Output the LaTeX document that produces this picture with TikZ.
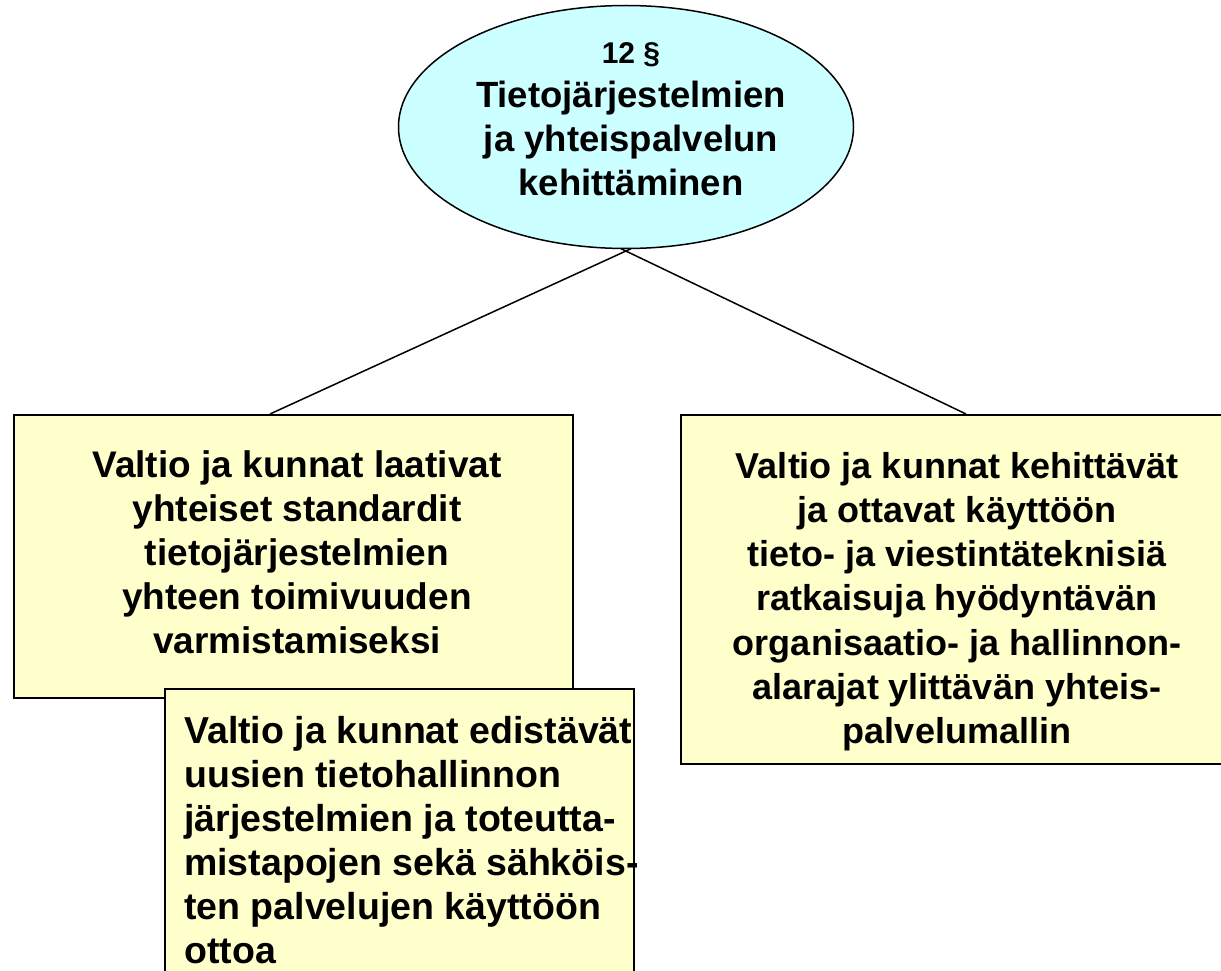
\documentclass[tikz,border=0pt]{standalone}
\usepackage{fontspec}
\setmainfont{Liberation Sans}
\usetikzlibrary{shapes.geometric}
\definecolor{cyanfill}{HTML}{CCFFFF}
\definecolor{yellowfill}{HTML}{FFFFCC}
\begin{document}
\begin{tikzpicture}[x=1pt,y=-1pt,
  boxstyle/.style={draw=black, line width=2pt, fill=yellowfill, rectangle, inner sep=0pt, anchor=north west},
  txtstyle/.style={inner sep=0pt, font=\fontsize{36.5pt}{44pt}\selectfont\bfseries},
  connector/.style={draw=black, line width=1.5pt}]
\useasboundingbox (0,0) rectangle (1221,971);
% connectors
\coordinate (lj) at (270,414);
\coordinate (rj) at (966,414);
\node[ellipse, inner sep=0pt, minimum width=455pt, minimum height=243pt] (topshape) at (626,127) {};
\draw[connector] ([xshift=5pt]topshape.south) -- (lj);
\draw[connector] ([xshift=-5pt]topshape.south) -- (rj);
% left box
\node[boxstyle, minimum width=559pt, minimum height=283pt] (lbox) at (13,414) {};
\node[txtstyle, anchor=north, align=center, font=\fontsize{37pt}{44pt}\selectfont\bfseries] (ltext) at (297,447)
  {\rule{0pt}{30pt}Valtio ja kunnat laativat\\yhteiset standardit\\tietojärjestelmien\\yhteen toimivuuden\\varmistamiseksi};
% lower box
\node[boxstyle, minimum width=469pt, minimum height=310pt] (bbox) at (164,688) {};
\node[txtstyle, anchor=north west, align=left, font=\fontsize{37.5pt}{44pt}\selectfont\bfseries] (btext) at (184,713)
  {\rule{0pt}{30pt}Valtio ja kunnat edistävät\\uusien tietohallinnon\\järjestelmien ja toteutta-\\mistapojen sekä sähköis-\\ten palvelujen käyttöön\\ottoa};
% right box
\node[boxstyle, minimum width=560pt, minimum height=349pt] (rbox) at (680,414) {};
\node[txtstyle, anchor=north, align=center, font=\fontsize{36pt}{44.2pt}\selectfont\bfseries] (rtext) at (957,448)
  {\rule{0pt}{30pt}Valtio ja kunnat kehittävät\\ja ottavat käyttöön\\tieto- ja viestintäteknisiä\\ratkaisuja hyödyntävän\\organisaatio- ja hallinnon-\\alarajat ylittävän yhteis-\\palvelumallin};
% ellipse
\node[ellipse, draw=black, line width=1.5pt, fill=cyanfill, inner sep=0pt, minimum width=455pt, minimum height=243pt] (top) at (626,127) {};
\node[txtstyle, anchor=north, align=center, font=\fontsize{36.5pt}{44pt}\selectfont\bfseries] (toptext) at (631,33)
  {\rule{0pt}{30pt}{\fontsize{30pt}{44pt}\selectfont 12 §}\\Tietojärjestelmien\\ja yhteispalvelun\\kehittäminen};
\end{tikzpicture}
\end{document}
